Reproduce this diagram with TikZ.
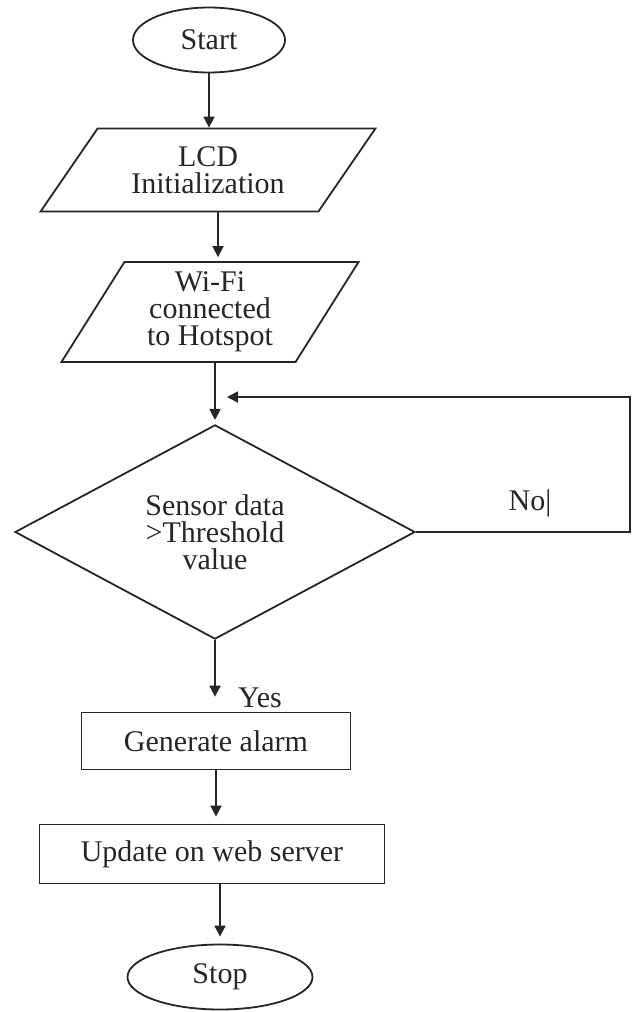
\documentclass[tikz,border=0pt]{standalone}
\usepackage{fontspec}
\setmainfont{Liberation Serif}
\usetikzlibrary{shapes.geometric,arrows.meta}
\begin{document}
\begin{tikzpicture}[x=1pt,y=-1pt,line width=1.8pt,draw=black!85,
    every node/.style={font=\fontsize{30}{27}\selectfont,align=center,text=black!85},
    terminal/.style={draw,ellipse,inner sep=0pt},
    io/.style={draw,trapezium,trapezium stretches=true,trapezium left angle=#1,
      trapezium right angle=180-#1,inner sep=0pt},
    decision/.style={draw,diamond,minimum width=400pt,minimum height=200pt,inner sep=0pt},
    process/.style={draw,rectangle,inner sep=0pt},
    arrow/.style={-{Triangle[length=11pt,width=11pt]}}]
    \useasboundingbox (0,0) rectangle (639,1012);
    % Draw blocks
    \node[terminal,minimum width=152pt,minimum height=65pt] (start) at (209,40) {Start};
    \node[io=50,minimum width=336pt,minimum height=83pt] (lcd) at (208,170) {LCD\\Initialization};
    \node[io=60,minimum width=298pt,minimum height=100pt] (wifi) at (210,312) {Wi-Fi\\connected\\to Hotspot};
    \node[decision] (check) at (215,532) {Sensor data\\>Threshold\\value};
    \node[process,minimum width=269pt,minimum height=57pt] (alarm) at (216,741) {Generate alarm};
    \node[process,minimum width=345pt,minimum height=59pt] (update) at (212,854) {Update on web server};
    \node[terminal,minimum width=185pt,minimum height=65pt] (stop) at (220,977) {Stop};
    % Labels
    \node (yes) at (260,698) {Yes};
    \node (no) at (530,503) {No|};
    % Draw arrows
    \draw[arrow] (start.south) -- (start.south |- lcd.north);
    \draw[arrow,shorten >=4pt] ([xshift=10pt]lcd.south) -- ([xshift=10pt]lcd.south |- wifi.north);
    \draw[arrow,shorten >=4pt] (wifi.south -| check.north) -- (check.north);
    \draw[arrow,shorten >=15pt] (check.south) -- (check.south |- alarm.north);
    \draw[arrow,shorten >=7pt] (alarm.south) -- (alarm.south |- update.north);
    \draw[arrow,shorten >=7pt] (update.south -| stop.north) -- (stop.north);
    % Loop back on No
    \coordinate (corner) at (630,397);
    \coordinate (back) at (227,397);
    \draw[arrow] (check.east) -| (corner) -- (back);
\end{tikzpicture}
\end{document}
